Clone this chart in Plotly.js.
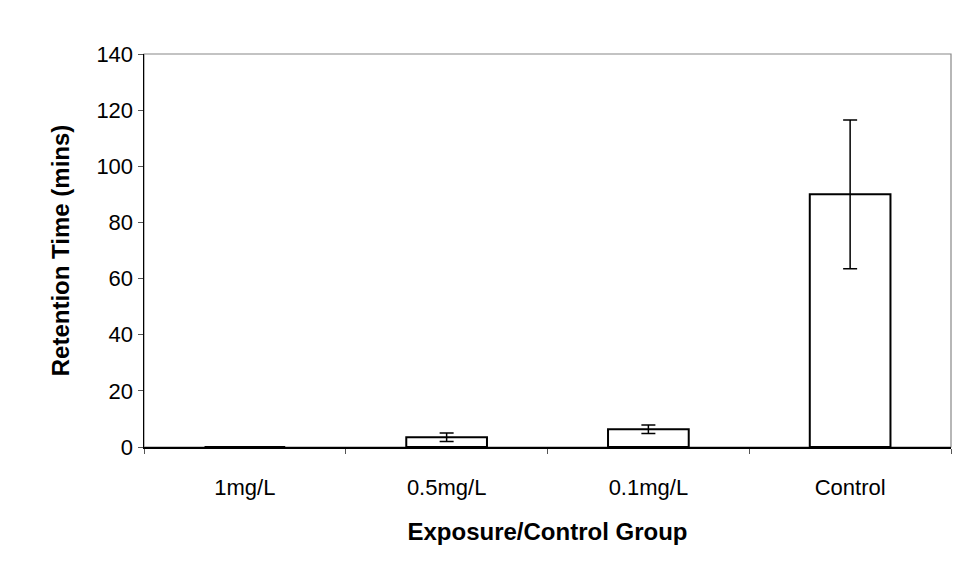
<!DOCTYPE html>
<html>
<head>
<meta charset="utf-8">
<script src="https://cdn.plot.ly/plotly-3.0.1.min.js"></script>
<style>html,body{margin:0;padding:0;background:#fff;}#chart{width:959px;height:573px;}</style>
</head>
<body>
<div id="chart"></div>
<script>
var categories = ["1mg/L", "0.5mg/L", "0.1mg/L", "Control"];
var retention = [0, 3.5, 6.3, 90];
var errors = [0, 1.5, 1.5, 26.5];
var yTicks = [0, 20, 40, 60, 80, 100, 120, 140];

var trace = {
  type: "bar",
  x: categories,
  y: retention,
  width: 0.4,
  marker: {color: "#ffffff", line: {color: "#000000", width: 2}},
  error_y: {type: "data", array: errors, visible: true, color: "#000000", thickness: 1.5, width: 7}
};

var tickFont = {family: "Liberation Sans, Arial, sans-serif", size: 22, color: "#000"};
var titleFont = {family: "Liberation Sans, Arial, sans-serif", size: 24, color: "#000"};

var layout = {
  width: 959, height: 573,
  margin: {l: 144, r: 8, t: 54, b: 126},
  paper_bgcolor: "#ffffff",
  plot_bgcolor: "#ffffff",
  showlegend: false,
  font: tickFont,
  xaxis: {
    type: "category",
    showline: true, linecolor: "#000", linewidth: 2,
    ticks: "outside", tickson: "boundaries", ticklen: 5, tickcolor: "#555",
    ticklabelstandoff: 20,
    showgrid: false,
    tickfont: tickFont,
    title: {text: "<b>Exposure/Control Group</b>", font: titleFont, standoff: 24}
  },
  yaxis: {
    range: [0, 140],
    tickvals: yTicks,
    showline: true, linecolor: "#000", linewidth: 1.5,
    ticks: "outside", ticklen: 5, tickcolor: "#555",
    showgrid: false, zeroline: false,
    tickfont: tickFont,
    title: {text: "<b>Retention Time (mins)</b>", font: titleFont, standoff: 20}
  },
  shapes: [{
    type: "rect", xref: "paper", yref: "paper", x0: 0, x1: 1, y0: 0, y1: 1,
    line: {color: "#888", width: 1.2}, layer: "below"
  }]
};

Plotly.newPlot("chart", [trace], layout, {displayModeBar: false, staticPlot: true});
</script>
</body>
</html>
